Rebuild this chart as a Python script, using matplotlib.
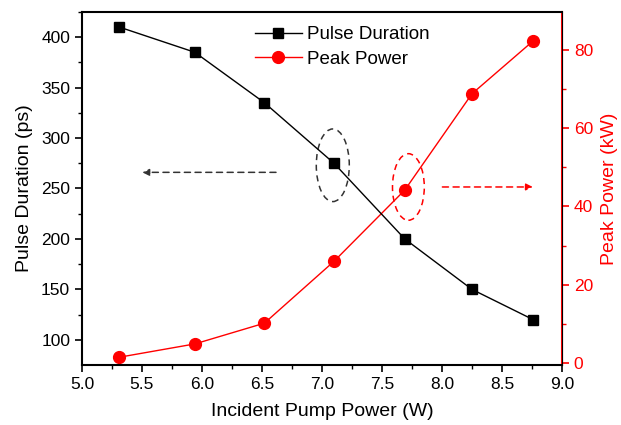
import matplotlib.pyplot as plt
from matplotlib.patches import Ellipse

plt.rcParams['font.family'] = ['Liberation Sans', 'DejaVu Sans']

pump_power = [5.31, 5.94, 6.52, 7.10, 7.69, 8.25, 8.76]
pulse_duration = [410, 385, 335, 275, 200, 150, 120]
peak_power = [1.5, 4.9, 10.2, 26.0, 44.2, 68.8, 82.3]

fig = plt.figure(figsize=(6.21, 4.25), dpi=100)
ax = fig.add_axes([0.132, 0.141, 0.773, 0.831])
ax2 = ax.twinx()

l1, = ax.plot(pump_power, pulse_duration, color='black', lw=1, marker='s', ms=7,
              label='Pulse Duration')
l2, = ax2.plot(pump_power, peak_power, color='red', lw=1, marker='o', ms=8.5,
               label='Peak Power')

ax.set_xlim(5.0, 9.0)
ax.set_ylim(75, 425)
ax2.set_ylim(-0.5, 89.7)

ax.set_xticks([5.0, 5.5, 6.0, 6.5, 7.0, 7.5, 8.0, 8.5, 9.0])
ax.set_xticks([5.25 + 0.5 * i for i in range(8)], minor=True)
ax.set_yticks([100, 150, 200, 250, 300, 350, 400])
ax.set_yticks([125, 175, 225, 275, 325, 375, 425], minor=True)
ax2.set_yticks([0, 20, 40, 60, 80])
ax2.set_yticks([10, 30, 50, 70], minor=True)

ax.tick_params(axis='both', which='major', direction='out', length=5, width=1.2, labelsize=12.5)
ax.tick_params(axis='both', which='minor', direction='out', length=3, width=1.0)
ax2.tick_params(axis='y', which='major', direction='out', length=5, width=1.2,
                colors='red', labelsize=12.5)
ax2.tick_params(axis='y', which='minor', direction='out', length=3, width=1.0, colors='red')

for s in ['left', 'bottom', 'top']:
    ax.spines[s].set_linewidth(1.5)
ax2.spines['right'].set_color('red')
ax2.spines['right'].set_linewidth(1.5)
ax2.spines['left'].set_visible(False)
ax2.spines['top'].set_visible(False)
ax2.spines['bottom'].set_visible(False)

ax.set_xlabel('Incident Pump Power (W)', fontsize=14, labelpad=8)
ax.set_ylabel('Pulse Duration (ps)', fontsize=14, labelpad=6)
ax2.set_ylabel('Peak Power (kW)', fontsize=14, color='red', labelpad=6)

# annotations (drawn in left-axis data coordinates)
ax.add_patch(Ellipse((7.09, 273), 0.275, 72, fill=False, ls=(0, (4, 3)),
                     ec='#333333', lw=1.1, zorder=1))
ax.add_patch(Ellipse((7.72, 251.5), 0.265, 66, fill=False, ls=(0, (4, 3)),
                     ec='red', lw=1.1, zorder=1))
ax.annotate('', xy=(5.48, 266), xytext=(6.64, 266),
            arrowprops=dict(arrowstyle='-|>', ls=(0, (4, 3)), color='#333333', lw=1.1))
ax.annotate('', xy=(8.78, 251.5), xytext=(7.98, 251.5),
            arrowprops=dict(arrowstyle='-|>', ls=(0, (4, 3)), color='red', lw=1.1))

ax.legend(handles=[l1, l2], loc='upper left', bbox_to_anchor=(0.36, 0.96),
          frameon=False, fontsize=13.5, handlelength=2.5, handletextpad=0.3,
          labelspacing=0.4, borderpad=0, borderaxespad=0)

ax.set_zorder(ax2.get_zorder() + 1)
ax.patch.set_visible(False)

fig.savefig('out.png', dpi=100)
